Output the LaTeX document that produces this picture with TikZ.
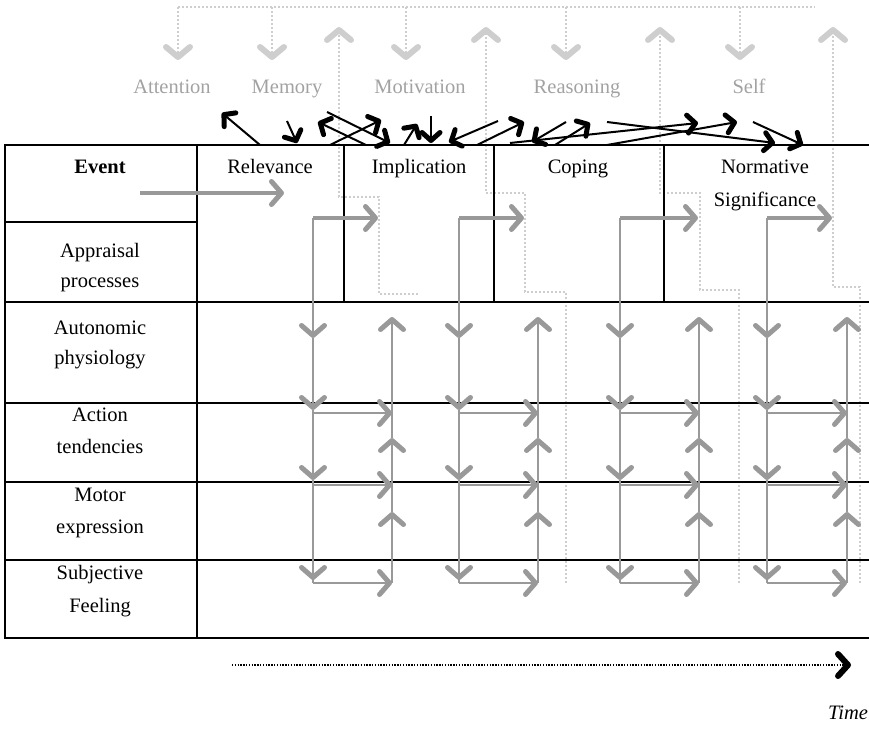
\documentclass[tikz,border=0pt]{standalone}
\usepackage{fontspec}
\setmainfont{Liberation Serif}
\usetikzlibrary{arrows.meta}

\definecolor{flowgray}{HTML}{999999}
\definecolor{dotgray}{HTML}{CECECE}
\definecolor{labelgray}{HTML}{A2A2A2}

\tikzset{
  chev/.tip={Straight Barb[length=10pt,width=23pt,line width=5pt 0 0,round]},
  bchev/.tip={Straight Barb[length=8pt,width=18pt,line width=5pt 0 0,round]},
  dchev/.tip={Straight Barb[length=10pt,width=24pt,line width=6pt 0 0,round]},
  tchev/.tip={Straight Barb[length=10pt,width=22pt,line width=6pt 0 0,round]},
  txt/.style={font=\fontsize{20.5}{32}\selectfont, align=center, inner sep=0pt, anchor=base},
  glabel/.style={txt, text=labelgray},
  rule/.style={line width=2pt, black},
  flow/.style={draw=flowgray, line width=2.4pt, -chev},
  flowthick/.style={draw=flowgray, line width=4pt, -chev},
  dotline/.style={draw=dotgray, line width=2.2pt, dash pattern=on 2pt off 2pt},
  dotarrow/.style={dotline, -dchev},
  feedback/.style={draw=black, line width=2pt, -bchev},
}

\begin{document}
\begin{tikzpicture}[x=1pt,y=-1pt]
\useasboundingbox (0,0) rectangle (869,735);

% ---------- top band: cognitive functions fed from a common line ----------
\draw[dotline] (178,7) -- (815,7);
\foreach \x in {178,272,406,566,740}
  \draw[dotarrow] (\x,7) -- (\x,60);

% ---------- dotted feedback paths climbing from the response rows ----------
\draw[dotarrow] (418,294) -- (379,294) -- (379,197) -- (339,197) -- (339,27);
\draw[dotarrow] (566,583) -- (566,292) -- (525,292) -- (525,193) -- (486,193) -- (486,27);
\draw[dotarrow] (739,583) -- (739,290) -- (700,290) -- (700,193) -- (660,193) -- (660,27);
\draw[dotarrow] (860,583) -- (860,287) -- (833,287) -- (833,27);

% ---------- labels of the cognitive functions ----------
\node[glabel] (attention)  at (172,94) {Attention};
\node[glabel] (memory)     at (287,94) {Memory};
\node[glabel] (motivation) at (420,94) {Motivation};
\node[glabel] (reasoning)  at (577,94) {Reasoning};
\node[glabel] (self)       at (749,94) {Self};

% ---------- table frame ----------
\draw[rule] (5,145) -- (869,145);
\draw[rule] (5,302) -- (869,302);
\draw[rule] (5,403) -- (869,403);
\draw[rule] (5,482) -- (869,482);
\draw[rule] (5,560) -- (869,560);
\draw[rule] (5,638) -- (869,638);
\draw[rule] (5,222) -- (197,222);
\draw[rule] (5,144) -- (5,639);
\draw[rule] (197,144) -- (197,639);
\draw[rule] (344,145) -- (344,302);
\draw[rule] (494,145) -- (494,302);
\draw[rule] (664,145) -- (664,302);

% ---------- row headings (base = baseline of the last line) ----------
\node[txt] (event)      at (100,174) {\bfseries Event};
\node[txt, font=\fontsize{20.5}{30}\selectfont] (appraisal) at (100,287) {Appraisal\\processes};
\node[txt, font=\fontsize{20.5}{30}\selectfont] (autonomic) at (100,364) {Autonomic\\physiology};
\node[txt] (action)     at (100,453) {Action\\tendencies};
\node[txt] (motor)      at (100,533) {Motor\\expression};
\node[txt, font=\fontsize{20.5}{33}\selectfont] (subjective) at (100,612) {Subjective\\Feeling};

% ---------- appraisal stages ----------
\node[txt] (relevance)   at (270,174) {Relevance};
\node[txt] (implication) at (419,174) {Implication};
\node[txt] (coping)      at (578,174) {Coping};
\node[txt, font=\fontsize{20.5}{33}\selectfont] (normative) at (765,207) {Normative\\Significance};

% ---------- event enters the appraisal ----------
\draw[flowthick] (140,193) -- (284,193);

% ---------- efferent effects of each appraisal stage ----------
\foreach \xd/\xu/\tx in {313/392/378, 459/538/524, 620/699/698, 767/847/832}{
  \draw[flowthick] (\xd,218) -- (\tx,218);
  \draw[flow] (\xd,218) -- (\xd,338);
  \draw[flow] (\xd,338) -- (\xd,410);
  \draw[flow] (\xd,410) -- (\xd,480);
  \draw[flow] (\xd,480) -- (\xd,580);
  \draw[draw=flowgray, line width=2.4pt] (\xd,578) -- (\xd,583);
  \draw[flow] (\xd,413) -- (\xu,413);
  \draw[flow] (\xd,485) -- (\xu,485);
  \draw[flow] (\xd,583) -- (\xu,583);
  \draw[flow] (\xu,583) -- (\xu,512);
  \draw[flow] (\xu,512) -- (\xu,438);
  \draw[flow] (\xu,438) -- (\xu,317);
}

% ---------- recursive interplay between the appraisal stages ----------
\draw[feedback] (260,145) -- (222,113);
\draw[feedback] (287,121) -- (297,143);
\draw[feedback] (366,145) -- (318,122);
\draw[feedback] (327,112) -- (390,143);
\draw[feedback] (330,145) -- (381,120);
\draw[feedback] (404,145) -- (417,124);
\draw[feedback] (431,116) -- (431,143);
\draw[feedback] (498,121) -- (449,142);
\draw[feedback] (477,145) -- (524,122);
\draw[feedback] (566,122) -- (532,142);
\draw[feedback] (555,145) -- (590,123);
\draw[feedback] (510,143) -- (698,123);
\draw[feedback] (607,145) -- (737,122);
\draw[feedback] (607,122) -- (775,143);
\draw[feedback] (753,122) -- (803,145);

% ---------- time axis ----------
\coordinate (tstart) at (232,665);
\coordinate (tend) at (851,665);
\draw[black, line width=2.4pt, dash pattern=on 1.4pt off 1.4pt, -tchev] (tstart) -- (tend);
\node[txt, font=\fontsize{20.5}{32}\selectfont\itshape] (time) at (848,719) {Time};
\end{tikzpicture}
\end{document}
